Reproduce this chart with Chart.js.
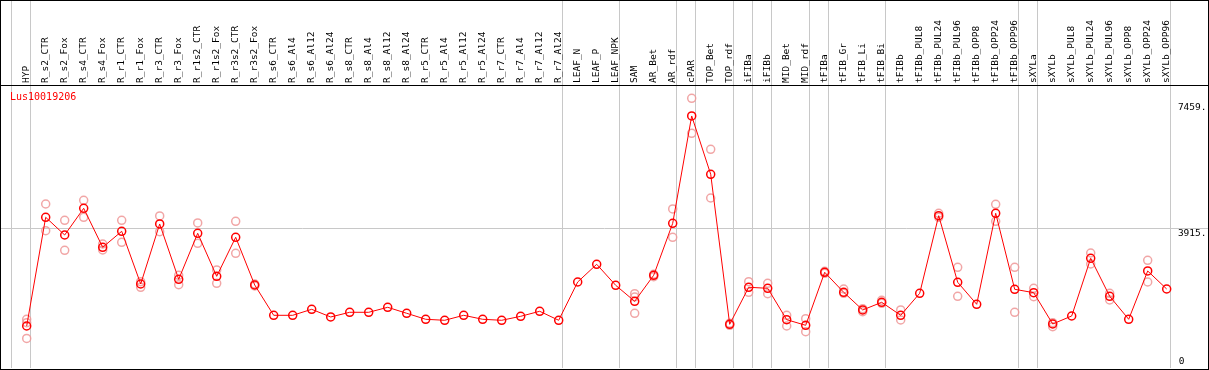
<!DOCTYPE html>
<html>
<head>
<meta charset="utf-8">
<script src="https://cdn.jsdelivr.net/npm/chart.js@4.4.1/dist/chart.umd.min.js"></script>
<style>
  html, body { margin: 0; padding: 0; background: #fff; }
  canvas { display: block; }
</style>
</head>
<body>
<canvas id="chart" width="1209" height="370"></canvas>
<script>
const geneName = 'Lus10019206';

const samples = [
  'HYP', 'R_s2_CTR', 'R_s2_Fox', 'R_s4_CTR', 'R_s4_Fox', 'R_r1_CTR', 'R_r1_Fox',
  'R_r3_CTR', 'R_r3_Fox', 'R_r1s2_CTR', 'R_r1s2_Fox', 'R_r3s2_CTR', 'R_r3s2_Fox',
  'R_s6_CTR', 'R_s6_Al4', 'R_s6_Al12', 'R_s6_Al24', 'R_s8_CTR', 'R_s8_Al4',
  'R_s8_Al12', 'R_s8_Al24', 'R_r5_CTR', 'R_r5_Al4', 'R_r5_Al12', 'R_r5_Al24',
  'R_r7_CTR', 'R_r7_Al4', 'R_r7_Al12', 'R_r7_Al24', 'LEAF_N', 'LEAF_P', 'LEAF_NPK',
  'SAM', 'AR_Bet', 'AR_rdf', 'cPAR', 'TOP_Bet', 'TOP_rdf', 'iFIBa', 'iFIBb',
  'MID_Bet', 'MID_rdf', 'tFIBa', 'tFIB_Gr', 'tFIB_Li', 'tFIB_Bi', 'tFIBb',
  'tFIBb_PUL8', 'tFIBb_PUL24', 'tFIBb_PUL96', 'tFIBb_OPP8', 'tFIBb_OPP24', 'tFIBb_OPP96',
  'sXYLa', 'sXYLb', 'sXYLb_PUL8', 'sXYLb_PUL24', 'sXYLb_PUL96', 'sXYLb_OPP8',
  'sXYLb_OPP24', 'sXYLb_OPP96'
];

// mean expression per sample
const means = [
  1181, 4239, 3741, 4492, 3395, 3845, 2363, 4051, 2495, 3789, 2579, 3677, 2335,
  1482, 1482, 1651, 1435, 1567, 1567, 1707, 1539, 1370, 1342, 1482, 1370,
  1342, 1454, 1595, 1342, 2419, 2917, 2326,
  1876, 2608, 4070, 7089, 5449, 1229, 2270, 2242,
  1359, 1201, 2692, 2129, 1632, 1848, 1482,
  2101, 4284, 2411, 1792, 4352, 2214,
  2118, 1238, 1463, 3086, 2017, 1370, 2729, 2222
];

// replicate values (null where no replicate is visible)
const rep1 = [
  1370, 4613, 4155, 4717, 3488, 4155, 2428, 4276, 2608, 4079, 2757, 4127, 2363,
  null, null, null, null, null, null, null, null, null, null, null, null,
  null, null, null, null, null, null, null,
  2090, 2636, 4473, 7586, 6152, 1257, 2428, 2383,
  1482, 1387, 2720, 2222, 1668, 1904, 1632,
  null, 4352, 2833, null, 4605, 2833,
  2242, 1274, null, 3235, 2101, null, 3030, null
];
const rep2 = [
  1274, 3862, 3311, 4239, 3319, 3536, 2270, 3834, 2343, 3508, 2383, 3226, 2307,
  null, null, null, null, null, null, null, null, null, null, null, null,
  null, null, null, null, null, null, null,
  1997, 2568, 3677, 6602, 4782, 1201, 2129, 2090,
  1181, 1021, 2664, 2101, 1584, 1820, 1350,
  null, 4239, 2017, null, 4127, 1567,
  2006, 1162, null, 2925, 1913, null, 2419, null
];
const rep3 = [
  833, null, null, null, null, null, null, null, null, null, null, null, null,
  null, null, null, null, null, null, null, null, null, null, null, null,
  null, null, null, null, null, null, null,
  1539, null, null, null, null, null, null, null,
  null, null, null, null, null, null, null,
  null, null, null, null, null, null,
  null, null, null, null, null, null, null, null
];

// group separators (vertical lines drawn just after these sample indices)
const groupEnds = [-1, 0, 28, 31, 34, 35, 37, 38, 39, 41, 42, 45, 52, 53, 60];

const yTicks = [3915, 7459];
const yZeroTick = [0];

const monoFont = { family: '"DejaVu Sans Mono", "Liberation Mono", monospace', size: 9.5 };

const meanPoints = means.map((v, i) => ({ x: i, y: v }));
const repPoints = [];
[rep1, rep2, rep3].forEach(r => r.forEach((v, i) => {
  if (v !== null) repPoints.push({ x: i, y: v });
}));

const xMin = -1.3526, xMax = 62.174;

// no extra padding around the axes, the plot fills the frame
const noPad = (scale) => {
  scale.paddingLeft = 0;
  scale.paddingRight = 0;
  scale.paddingTop = 0;
  scale.paddingBottom = 0;
};

const framePlugin = {
  id: 'frame',
  afterDraw(chart) {
    const ctx = chart.ctx;
    const a = chart.chartArea;
    ctx.save();
    ctx.strokeStyle = '#000';
    ctx.lineWidth = 1;
    ctx.strokeRect(0.5, 0.5, chart.width - 1, chart.height - 1);
    ctx.fillStyle = '#ff0000';
    ctx.font = '10px "DejaVu Sans Mono", monospace';
    ctx.textBaseline = 'middle';
    ctx.fillText(chart.data.datasets[0].label, a.left + 9, a.top + 12);
    ctx.restore();
  }
};

new Chart(document.getElementById('chart'), {
  type: 'line',
  data: {
    datasets: [{
      label: geneName,
      data: meanPoints,
      borderColor: '#ff0000',
      borderWidth: 1,
      pointRadius: 4,
      pointBorderWidth: 1.5,
      pointBorderColor: '#ff0000',
      pointBackgroundColor: 'rgba(0,0,0,0)',
      pointStyle: 'circle',
      tension: 0,
      xAxisID: 'x',
      yAxisID: 'y'
    }, {
      label: 'replicates',
      type: 'scatter',
      data: repPoints,
      showLine: false,
      pointRadius: 4,
      pointBorderWidth: 1.5,
      pointBorderColor: 'rgba(238,150,150,0.85)',
      pointBackgroundColor: 'rgba(0,0,0,0)',
      xAxisID: 'x',
      yAxisID: 'y'
    }]
  },
  options: {
    responsive: false,
    animation: false,
    devicePixelRatio: 1,
    layout: { autoPadding: false, padding: { left: 1, right: 1, top: 0, bottom: 2 } },
    plugins: {
      legend: { display: false },
      tooltip: { enabled: false }
    },
    scales: {
      x: {
        type: 'linear',
        position: 'top',
        weight: 1,
        min: xMin,
        max: xMax,
        afterBuildTicks: (scale) => {
          scale.ticks = samples.map((s, i) => ({ value: i }));
        },
        afterFit: (scale) => { scale.height = 85; noPad(scale); },
        ticks: {
          autoSkip: false,
          minRotation: 90,
          maxRotation: 90,
          padding: 2,
          labelOffset: 11.5,
          color: '#000',
          font: monoFont,
          callback: (v, i) => samples[i]
        },
        grid: { display: false, drawTicks: false },
        border: { display: false }
      },
      xg: {
        type: 'linear',
        position: 'top',
        weight: 0,
        min: xMin,
        max: xMax,
        afterBuildTicks: (scale) => {
          scale.ticks = groupEnds.map(g => ({ value: g + 0.21 }));
        },
        afterFit: (scale) => { scale.height = 0; noPad(scale); },
        ticks: { display: false },
        grid: { color: '#c8c8c8', lineWidth: 1, drawTicks: true, tickLength: 85 },
        border: { display: true, color: '#000', width: 1 }
      },
      y: {
        type: 'linear',
        position: 'right',
        min: 0,
        max: 7960,
        afterBuildTicks: (scale) => {
          scale.ticks = yTicks.map(v => ({ value: v }));
        },
        afterFit: (scale) => { scale.width = 0; noPad(scale); },
        ticks: {
          mirror: true,
          padding: -1.5,
          labelOffset: 4.5,
          color: '#000',
          font: monoFont,
          callback: (v) => v + '.'
        },
        grid: {
          drawTicks: false,
          color: (c) => c.tick && c.tick.value === 3915 ? '#c8c8c8' : 'rgba(0,0,0,0)'
        },
        border: { display: false }
      },
      y0: {
        type: 'linear',
        position: 'right',
        min: 0,
        max: 7960,
        afterBuildTicks: (scale) => {
          scale.ticks = yZeroTick.map(v => ({ value: v }));
        },
        afterFit: (scale) => { scale.width = 0; noPad(scale); },
        ticks: {
          mirror: true,
          padding: -23.5,
          labelOffset: -6,
          color: '#000',
          font: monoFont,
          callback: (v) => String(v)
        },
        grid: { display: false, drawTicks: false },
        border: { display: false }
      }
    }
  },
  plugins: [framePlugin]
});
</script>
</body>
</html>
